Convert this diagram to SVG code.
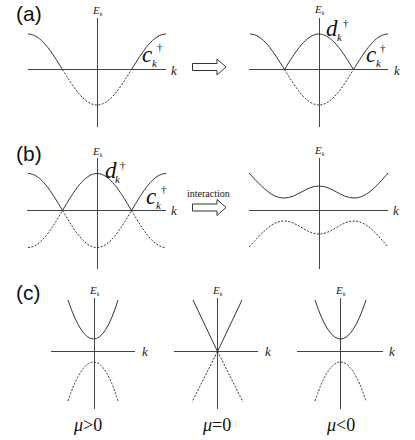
<svg xmlns="http://www.w3.org/2000/svg" width="415" height="440" viewBox="0 0 415 440">
<style>
.ax{stroke:#444;stroke-width:1;fill:none}
.s{stroke:#333;stroke-width:1;fill:none}
.d{stroke:#333;stroke-width:1;fill:none;stroke-dasharray:2,1.5}
.arr{fill:#fff;stroke:#333;stroke-width:1}
.pl{font-family:"Liberation Sans",Arial,sans-serif;font-size:21px;fill:#111}
.E{font-family:"Liberation Serif","Times New Roman",serif;font-style:italic;font-size:11px;fill:#222}
.sub{font-size:6px}
.k{font-family:"Liberation Serif","Times New Roman",serif;font-style:italic;font-size:13px;fill:#222}
.big{font-family:"Liberation Serif","Times New Roman",serif;font-style:italic;font-size:23px;fill:#111}
.bk{font-family:"Liberation Serif","Times New Roman",serif;font-style:italic;font-size:11px;fill:#111}
.dg{font-family:"Liberation Serif","Times New Roman",serif;font-size:11px;fill:#111}
.mu{font-family:"Liberation Serif","Times New Roman",serif;font-size:18px;fill:#111}
.it{font-family:"Liberation Serif","Times New Roman",serif;font-size:10px;fill:#111}
</style>

<g id="label-a"><text class="pl" x="16" y="21">(a)</text></g>
<g id="label-b"><text class="pl" x="16" y="161">(b)</text></g>
<g id="label-c"><text class="pl" x="16" y="300">(c)</text></g>

<g id="a-left">
<line class="ax" x1="97.5" y1="18" x2="97.5" y2="127"/>
<line class="ax" x1="28" y1="69.5" x2="166" y2="69.5"/>
<path class="s" d="M28,34 C40.49,34 51.25,51.31 62.5,69.5"/>
<path class="d" d="M62.5,69.5 C73.75,87.69 84.51,105 97,105 C109.49,105 120.25,87.69 131.5,69.5"/>
<path class="s" d="M131.5,69.5 C142.75,51.31 153.51,34 166,34"/>
<text class="E" x="93" y="14">E<tspan class="sub" dy="2">k</tspan></text>
<text class="k" x="171" y="75">k</text>
<text class="big" x="142" y="62">c</text>
<text class="bk" x="152" y="67">k</text>
<text class="dg" x="157" y="51">†</text>
</g>

<g id="a-right">
<line class="ax" x1="319.5" y1="18" x2="319.5" y2="127"/>
<line class="ax" x1="249" y1="69.5" x2="388" y2="69.5"/>
<path class="s" d="M250,34 C262.49,34 273.25,51.31 284.5,69.5"/>
<path class="d" d="M284.5,69.5 C295.75,87.69 306.51,105 319,105 C331.49,105 342.25,87.69 353.5,69.5"/>
<path class="s" d="M353.5,69.5 C364.75,51.31 375.51,34 388,34"/>
<path class="s" d="M284.5,69.5 C295.75,51.31 306.51,34 319,34 C331.49,34 342.25,51.31 353.5,69.5"/>
<text class="E" x="315" y="13">E<tspan class="sub" dy="2">k</tspan></text>
<text class="k" x="394" y="75">k</text>
<text class="big" x="326" y="36">d</text>
<text class="bk" x="337" y="41">k</text>
<text class="dg" x="343" y="27">†</text>
<text class="big" x="366" y="62">c</text>
<text class="bk" x="376" y="67">k</text>
<text class="dg" x="380" y="52">†</text>
</g>

<g id="b-left">
<line class="ax" x1="97.5" y1="158" x2="97.5" y2="269"/>
<line class="ax" x1="27" y1="210.5" x2="166" y2="210.5"/>
<path class="s" d="M28,173.5 C40.49,173.5 51.25,191.54 62.5,210.5"/>
<path class="d" d="M62.5,210.5 C73.75,229.46 84.51,247.5 97,247.5 C109.49,247.5 120.25,229.46 131.5,210.5"/>
<path class="s" d="M131.5,210.5 C142.75,191.54 153.51,173.5 166,173.5"/>
<path class="s" d="M62.5,210.5 C73.75,191.54 84.51,173.5 97,173.5 C109.49,173.5 120.25,191.54 131.5,210.5"/>
<path class="d" d="M28,247.5 C40.49,247.5 51.25,229.46 62.5,210.5"/>
<path class="d" d="M131.5,210.5 C142.75,229.46 153.51,247.5 166,247.5"/>
<text class="E" x="93" y="155">E<tspan class="sub" dy="2">k</tspan></text>
<text class="k" x="171" y="215">k</text>
<text class="big" x="105" y="178">d</text>
<text class="bk" x="115" y="183">k</text>
<text class="dg" x="120" y="169">†</text>
<text class="big" x="146" y="204">c</text>
<text class="bk" x="156" y="209">k</text>
<text class="dg" x="161" y="193">†</text>
</g>

<g id="b-right">
<line class="ax" x1="319.5" y1="158" x2="319.5" y2="269"/>
<line class="ax" x1="249" y1="210.5" x2="388" y2="210.5"/>
<path class="s" d="M249,173 C262,187 272,198 284,198 C297,198 306,186 319,186 C332,186 341,198 354,198 C366,198 376,187 388,173"/>
<path class="d" d="M249,247 C262,233 272,221 284,221 C297,221 306,234 319,234 C332,234 341,221 354,221 C366,221 376,233 388,247"/>
<text class="E" x="315" y="154">E<tspan class="sub" dy="2">k</tspan></text>
<text class="k" x="393" y="215">k</text>
</g>

<g id="c-left">
<line class="ax" x1="94.5" y1="298" x2="94.5" y2="409"/>
<line class="ax" x1="51" y1="351.5" x2="135" y2="351.5"/>
<path class="s" d="M68,300 Q94,378 118,300"/>
<path class="d" d="M68,401 Q94,323 118,401"/>
<text class="E" x="90" y="294">E<tspan class="sub" dy="2">k</tspan></text>
<text class="k" x="142" y="356">k</text>
<text class="mu" x="74" y="431"><tspan font-style="italic">μ</tspan>&gt;0</text>
</g>

<g id="c-middle">
<line class="ax" x1="217.5" y1="298" x2="217.5" y2="409" stroke="#777"/>
<line class="ax" x1="174" y1="351.5" x2="258" y2="351.5"/>
<path class="s" d="M193,300 L217.5,351.5 L242,300"/>
<path class="d" d="M217.5,351.5 L192,402 M217.5,351.5 L243,402"/>
<text class="E" x="213" y="294">E<tspan class="sub" dy="2">k</tspan></text>
<text class="k" x="265" y="356">k</text>
<text class="mu" x="203" y="431"><tspan font-style="italic">μ</tspan>=0</text>
</g>

<g id="c-right">
<line class="ax" x1="340.5" y1="298" x2="340.5" y2="409"/>
<line class="ax" x1="297" y1="351.5" x2="383" y2="351.5"/>
<path class="s" d="M315,300 Q340.5,378 366,300"/>
<path class="d" d="M315,401 Q340.5,323 366,401"/>
<text class="E" x="336" y="294">E<tspan class="sub" dy="2">k</tspan></text>
<text class="k" x="389" y="356">k</text>
<text class="mu" x="327" y="431"><tspan font-style="italic">μ</tspan>&lt;0</text>
</g>

<g id="connectors">
<path class="arr" d="M192.5,63.5 H217 V59 L226,67 L217,75 V70.5 H192.5 Z"/>
<path class="arr" d="M192.5,204 H217 V199.5 L226,207.5 L217,215.5 V211 H192.5 Z"/>
<text class="it" x="187" y="197">interaction</text>
</g>
</svg>
